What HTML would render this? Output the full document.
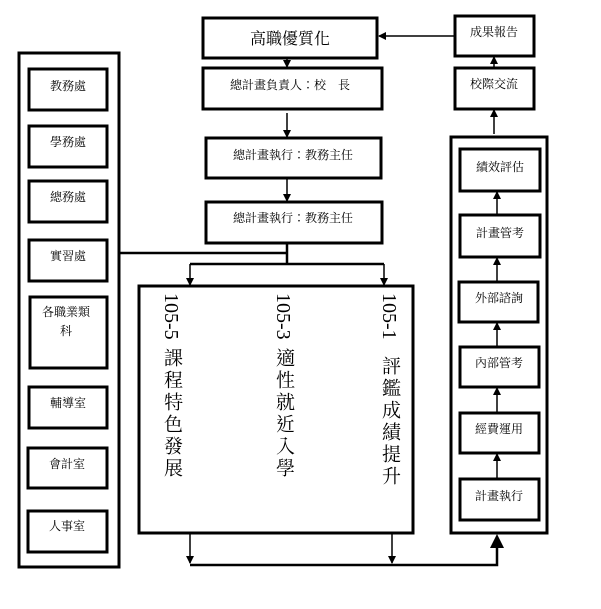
<!DOCTYPE html>
<html><head><meta charset="utf-8"><style>
body{margin:0;background:#fff;width:601px;height:609px;overflow:hidden}
svg{position:absolute;left:0;top:0}
.t{font-family:"Liberation Serif","Noto Serif CJK TC","Noto Serif CJK SC",serif;fill:#000}
.v{position:absolute;writing-mode:vertical-rl;font-family:"Liberation Serif","Noto Serif CJK TC","Noto Serif CJK SC",serif;font-size:19px;line-height:22px;letter-spacing:3px;color:#000}
.v span{letter-spacing:0;font-size:20px;display:inline-block;padding-bottom:8px}
</style></head><body>
<svg width="601" height="609" viewBox="0 0 601 609">
<defs><marker id="a" markerWidth="8" markerHeight="8" refX="7" refY="4" orient="auto" markerUnits="userSpaceOnUse"><path d="M0,0 L8,4 L0,8 z" fill="#000"/></marker></defs>
<g fill="none" stroke="#000" stroke-width="3">
<rect x="203" y="18" width="174" height="40"/>
<rect x="203" y="68" width="179" height="41"/>
<rect x="206" y="138" width="175" height="40"/>
<rect x="206" y="202" width="176" height="41"/>
<rect x="19" y="53" width="100" height="514"/>
<rect x="29" y="69" width="78" height="41"/>
<rect x="29" y="126" width="78" height="41"/>
<rect x="29" y="181" width="78" height="41"/>
<rect x="29" y="240" width="78" height="41"/>
<rect x="30" y="297" width="77" height="71"/>
<rect x="29" y="387" width="78" height="41"/>
<rect x="28" y="448" width="79" height="40"/>
<rect x="28" y="511" width="79" height="41"/>
<rect x="455" y="16" width="79" height="40"/>
<rect x="455" y="68" width="79" height="41"/>
<rect x="451" y="137" width="96" height="396"/>
<rect x="460" y="149" width="80" height="42"/>
<rect x="460" y="215" width="80" height="42"/>
<rect x="459" y="282" width="79" height="40"/>
<rect x="460" y="347" width="79" height="40"/>
<rect x="460" y="413" width="79" height="40"/>
<rect x="460" y="479" width="79" height="41"/>
<rect x="139" y="286" width="274" height="247"/>
</g>
<g fill="none" stroke="#000" stroke-width="1.5">
<line x1="455" y1="36" x2="379" y2="36" marker-end="url(#a)"/>
<line x1="287" y1="58" x2="287" y2="67" marker-end="url(#a)"/>
<line x1="287" y1="113" x2="287" y2="137" marker-end="url(#a)"/>
<line x1="287" y1="178" x2="287" y2="201" marker-end="url(#a)"/>
<line x1="494" y1="68" x2="494" y2="57" marker-end="url(#a)"/>
<line x1="494" y1="134" x2="494" y2="110" marker-end="url(#a)"/>
<line x1="497" y1="215" x2="497" y2="192" marker-end="url(#a)"/>
<line x1="497" y1="282" x2="497" y2="258" marker-end="url(#a)"/>
<line x1="497" y1="347" x2="497" y2="323" marker-end="url(#a)"/>
<line x1="497" y1="413" x2="497" y2="388" marker-end="url(#a)"/>
<line x1="497" y1="479" x2="497" y2="454" marker-end="url(#a)"/>
<line x1="190" y1="533" x2="190" y2="563" marker-end="url(#a)"/>
<line x1="392" y1="533" x2="392" y2="563" marker-end="url(#a)"/>
<line x1="190" y1="264" x2="190" y2="285" marker-end="url(#a)"/>
<line x1="384" y1="264" x2="384" y2="285" marker-end="url(#a)"/>
</g>
<g fill="none" stroke="#000" stroke-width="2.5">
<polyline points="119,253 287,253"/>
<polyline points="287,243 287,264"/>
<polyline points="190,264 384,264"/>
<polyline points="190,565 497,565 497,548"/>
</g>
<path d="M490,548 L504,548 L497,534 z" fill="#000"/>
<g class="t" font-size="12" text-anchor="middle">
<text x="290" y="44" font-size="16">高職優質化</text>
<text x="290" y="89">總計畫負責人：校　長</text>
<text x="293" y="159">總計畫執行：教務主任</text>
<text x="293" y="222">總計畫執行：教務主任</text>
<text x="68" y="90">教務處</text>
<text x="68" y="146">學務處</text>
<text x="68" y="201">總務處</text>
<text x="68" y="260">實習處</text>
<text x="66" y="316">各職業類</text>
<text x="66" y="335">科</text>
<text x="68" y="407">輔導室</text>
<text x="67" y="468">會計室</text>
<text x="67" y="530">人事室</text>
<text x="494" y="36">成果報告</text>
<text x="494" y="88">校際交流</text>
<text x="500" y="171">績效評估</text>
<text x="500" y="237">計畫管考</text>
<text x="499" y="302">外部諮詢</text>
<text x="499" y="367">內部管考</text>
<text x="499" y="433">經費運用</text>
<text x="499" y="500">計畫執行</text>
</g>
</svg>
<div class="v" style="left:160px;top:293px"><span>105-5</span>課程特色發展</div>
<div class="v" style="left:272px;top:293px"><span>105-3</span>適性就近入學</div>
<div class="v" style="left:378px;top:293px"><span style="padding-bottom:16px">105-1</span>評鑑成績提升</div>
</body></html>
